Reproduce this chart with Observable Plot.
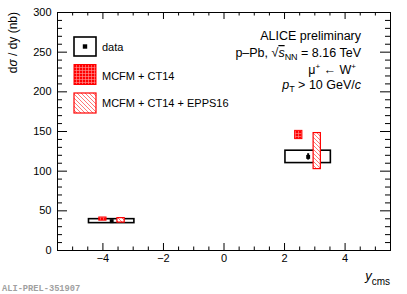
<!DOCTYPE html>
<html><head><meta charset="utf-8">
<script src="https://cdn.jsdelivr.net/npm/d3@7"></script>
<script src="https://cdn.jsdelivr.net/npm/@observablehq/plot@0.6"></script>
<style>
body{margin:0;background:#fff;}
#chart svg{font-family:"Liberation Sans",Arial,sans-serif;background:#fff;}
</style></head><body><div id="chart"></div>
<script>
// rapidity bins (cms)
const binLow = [-4.46, 2.03];
const binHigh = [-2.96, 3.53];
const binCenter = [-3.71, 2.78];
// ALICE preliminary data (nb)
const dataValue = [37, 118];
const dataStat = [1.2, 4];
const dataSyst = [2.5, 7.8];
// MCFM + CT14
const ct14X = [-4.0, 2.47];
const ct14Value = [39.6, 145.6];
const ct14Err = [2.0, 5.2];
// MCFM + CT14 + EPPS16
const eppsX = [-3.4, 3.08];
const eppsValue = [38.0, 125.3];
const eppsErr = [2.8, 22.7];
// axis ticks
const xMajor = [-4, -2, 0, 2, 4];
const xMinor = d3.range(-5.5, 5.51, 0.5).filter(v => !xMajor.includes(v));
const yMajor = [0, 50, 100, 150, 200, 250, 300];
const yMinor = d3.range(0, 301, 10).filter(v => !yMajor.includes(v));

const W = 407, H = 294;
const mL = 57, mR = 17, mT = 12, mB = 44;
const iW = W - mL - mR, iH = H - mT - mB;
const boxHalf = 0.12;

const dataRows = binCenter.map((x, i) => ({x, lo: binLow[i], hi: binHigh[i], v: dataValue[i], stat: dataStat[i], sys: dataSyst[i]}));
const ct14Rows = ct14X.map((x, i) => ({x, v: ct14Value[i], e: ct14Err[i]}));
const eppsRows = eppsX.map((x, i) => ({x, v: eppsValue[i], e: eppsErr[i]}));

const chart = Plot.plot({
  width: W, height: H,
  marginLeft: mL, marginRight: mR, marginTop: mT, marginBottom: mB,
  x: {domain: [-5.5, 5.5]},
  y: {domain: [0, 300]},
  style: {fontFamily: '"Liberation Sans", Arial, sans-serif', background: "#fff"},
  marks: [
    Plot.rect(dataRows, {x1: "lo", x2: "hi", y1: d => d.v - d.sys, y2: d => d.v + d.sys, fill: "white", stroke: "black", strokeWidth: 1.6}),
    Plot.rect(ct14Rows, {x1: d => d.x - boxHalf, x2: d => d.x + boxHalf, y1: d => d.v - d.e, y2: d => d.v + d.e, fill: "url(#ct14hatch)", stroke: "#ff0000", strokeWidth: 1}),
    Plot.rect(eppsRows, {x1: d => d.x - boxHalf, x2: d => d.x + boxHalf, y1: d => d.v - d.e, y2: d => d.v + d.e, fill: "url(#eppshatch)", stroke: "#ff0000", strokeWidth: 1.2}),
    Plot.ruleX(dataRows, {x: "x", y1: d => d.v - d.stat, y2: d => d.v + d.stat, stroke: "black", strokeWidth: 2}),
    Plot.dot(dataRows, {x: "x", y: "v", symbol: "square", r: 2.2, fill: "black", stroke: "none"}),
    Plot.frame({stroke: "black", strokeWidth: 1}),
    // inward ticks
    Plot.tickX(xMajor, {x: d => d, insetTop: iH - 7, stroke: "black"}),
    Plot.tickX(xMinor, {x: d => d, insetTop: iH - 3.5, stroke: "black"}),
    Plot.tickX(xMajor, {x: d => d, insetBottom: iH - 7, stroke: "black"}),
    Plot.tickX(xMinor, {x: d => d, insetBottom: iH - 3.5, stroke: "black"}),
    Plot.tickY(yMajor, {y: d => d, insetRight: iW - 10, stroke: "black"}),
    Plot.tickY(yMinor, {y: d => d, insetRight: iW - 5, stroke: "black"}),
    Plot.tickY(yMajor, {y: d => d, insetLeft: iW - 10, stroke: "black"}),
    Plot.tickY(yMinor, {y: d => d, insetLeft: iW - 5, stroke: "black"}),
    Plot.axisX(xMajor, {anchor: "bottom", tickSize: 0, tickPadding: 4, fontSize: 11, label: null, fill: "black"}),
    Plot.axisY(yMajor, {anchor: "left", tickSize: 0, tickPadding: 6, fontSize: 11, label: null, fill: "black"})
  ]
});

const svg = d3.select(chart);
const defs = svg.insert("defs", ":first-child");
const p1 = defs.append("pattern").attr("id", "ct14hatch").attr("patternUnits", "userSpaceOnUse").attr("width", 3).attr("height", 3);
p1.append("rect").attr("width", 3).attr("height", 3).attr("fill", "#ff0000");
p1.append("path").attr("d", "M0,1.5H3M1.5,0V3").attr("stroke", "#ff9a9a").attr("stroke-width", 0.6);
const p2 = defs.append("pattern").attr("id", "eppshatch").attr("patternUnits", "userSpaceOnUse").attr("width", 4).attr("height", 4);
p2.append("rect").attr("width", 4).attr("height", 4).attr("fill", "white");
p2.append("path").attr("d", "M-1,-1L5,5M-1,3L1,5M3,-1L5,1").attr("stroke", "#ff5555").attr("stroke-width", 0.8);

// y-axis title
svg.append("text").attr("transform", "translate(16.5,12) rotate(-90)").attr("text-anchor", "end")
  .attr("font-size", 12).attr("fill", "black")
  .call(t => { t.append("tspan").text("d"); t.append("tspan").attr("font-style", "italic").text("σ"); t.append("tspan").text(" / dy (nb)"); });

// x-axis title
const xt = svg.append("text").attr("x", 390).attr("y", 280).attr("text-anchor", "end").attr("fill", "black");
xt.append("tspan").attr("font-size", 13).attr("font-style", "italic").text("y");
xt.append("tspan").attr("font-size", 10).attr("dy", 5).text("cms");

// preliminary tag
svg.append("text").attr("x", 2).attr("y", 291).attr("text-anchor", "start").attr("font-family", '"Liberation Mono", "DejaVu Sans Mono", monospace')
  .attr("font-weight", "bold").attr("font-size", 8.7).attr("fill", "#a0a0a0").text("ALI-PREL-351907");

// top-right labels
const fs = 12.5, rx = 361;
svg.append("text").attr("x", rx).attr("y", 40).attr("text-anchor", "end").attr("font-size", fs).text("ALICE preliminary");
const l2 = svg.append("text").attr("x", rx).attr("y", 57).attr("text-anchor", "end").attr("font-size", fs);
l2.append("tspan").text("p–Pb, √");
l2.append("tspan").attr("font-style", "italic").attr("text-decoration", "overline").text("s");
l2.append("tspan").attr("font-size", 9).attr("dy", 3).text("NN");
l2.append("tspan").attr("dy", -3).text(" = 8.16 TeV");
const l3 = svg.append("text").attr("x", rx - 5).attr("y", 74).attr("text-anchor", "end").attr("font-size", fs);
l3.append("tspan").text("μ");
l3.append("tspan").attr("font-size", 8).attr("dy", -5).text("+");
l3.append("tspan").attr("dy", 5).text(" ← W");
l3.append("tspan").attr("font-size", 8).attr("dy", -5).text("+");
const l4 = svg.append("text").attr("x", rx).attr("y", 89).attr("text-anchor", "end").attr("font-size", fs);
l4.append("tspan").attr("font-style", "italic").text("p");
l4.append("tspan").attr("font-size", 9).attr("dy", 3).text("T");
l4.append("tspan").attr("dy", -3).text(" > 10 GeV/");
l4.append("tspan").attr("font-style", "italic").text("c");

// legend
const leg = svg.append("g").attr("text-anchor", "start");
const lx = 74, lw = 22, lh = 20;
leg.append("rect").attr("x", lx).attr("y", 37).attr("width", lw).attr("height", lh - 1).attr("fill", "white").attr("stroke", "black").attr("stroke-width", 1.6);
leg.append("rect").attr("x", lx + lw / 2 - 2.2).attr("y", 37 + (lh - 1) / 2 - 2.2).attr("width", 4.4).attr("height", 4.4).attr("fill", "black");
leg.append("rect").attr("x", lx).attr("y", 64.5).attr("width", lw).attr("height", lh).attr("fill", "url(#ct14hatch)").attr("stroke", "#ff0000");
leg.append("rect").attr("x", lx).attr("y", 93).attr("width", lw).attr("height", lh).attr("fill", "url(#eppshatch)").attr("stroke", "#ff0000").attr("stroke-width", 1.2);
const lf = 11;
leg.append("text").attr("x", 102).attr("y", 50.5).attr("font-size", lf).attr("text-anchor", "start").text("data");
leg.append("text").attr("x", 102).attr("y", 79.5).attr("font-size", lf).attr("text-anchor", "start").text("MCFM + CT14");
leg.append("text").attr("x", 102).attr("y", 107).attr("font-size", lf).attr("text-anchor", "start").text("MCFM + CT14 + EPPS16");

document.getElementById("chart").appendChild(chart);
</script></body></html>
